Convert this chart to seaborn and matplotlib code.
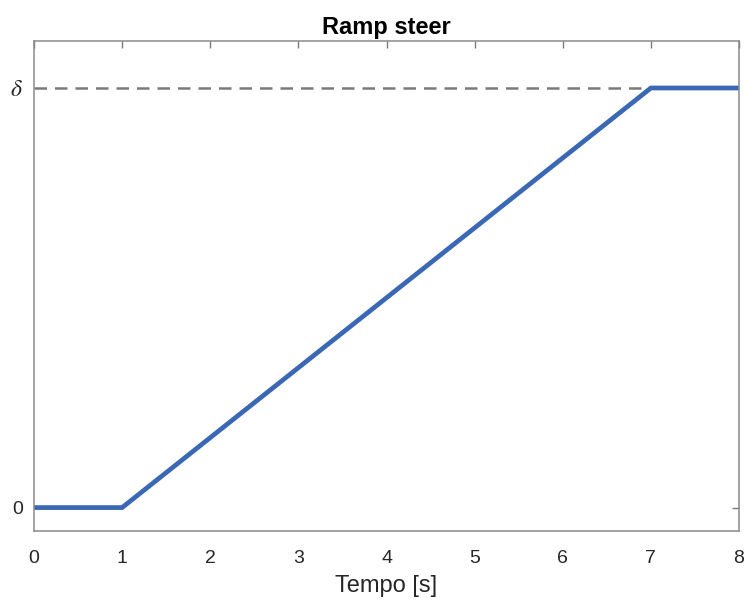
import matplotlib
matplotlib.use("Agg")
import matplotlib.pyplot as plt
import seaborn as sns
import pandas as pd

# Steering input: ramp from 0 to delta between t=1 s and t=7 s
time_s = [0, 1, 7, 8]
steer = [0, 0, 1, 1]
delta_level = 1
x_ticks = [0, 1, 2, 3, 4, 5, 6, 7, 8]
y_ticks = [0, 1]
y_ticklabels = ["0", r"$\delta$"]

sns.set_theme(style="white")
plt.rcParams["font.family"] = ["Liberation Sans", "DejaVu Sans"]
plt.rcParams["mathtext.fontset"] = "stix"

df = pd.DataFrame({"t": time_s, "steer": steer})

fig = plt.figure(figsize=(7.44, 6.03), dpi=100)
ax = fig.add_axes([0.0457, 0.120, 0.9476, 0.812])

ax.axhline(delta_level, color="#7a7a7a", lw=1.8, ls=(0, (5, 3.2)), zorder=1)
sns.lineplot(data=df, x="t", y="steer", ax=ax, color="#3a68b4", lw=3.4, zorder=2)

ax.set_xlim(0, 8)
ax.set_ylim(-0.055, 1.112)
ax.set_xticks(x_ticks)
ax.set_yticks(y_ticks)
ax.set_yticklabels(y_ticklabels)
ax.tick_params(direction="in", length=5, width=1, colors="#7a7a7a",
               labelcolor="#262626", labelsize=14, top=True, right=True)
ax.tick_params(axis="x", pad=14)
ax.tick_params(axis="y", pad=8)
ax.get_yticklabels()[1].set_fontsize(17)
for sp in ax.spines.values():
    sp.set_color("#8a8a8a")
    sp.set_linewidth(1.1)

ax.set_xlabel("Tempo [s]", fontsize=17, color="#262626", labelpad=6)
ax.set_ylabel("")
ax.set_title("Ramp steer", fontsize=17, fontweight="bold", color="black", pad=5)

fig.savefig("out.png", dpi=100)
